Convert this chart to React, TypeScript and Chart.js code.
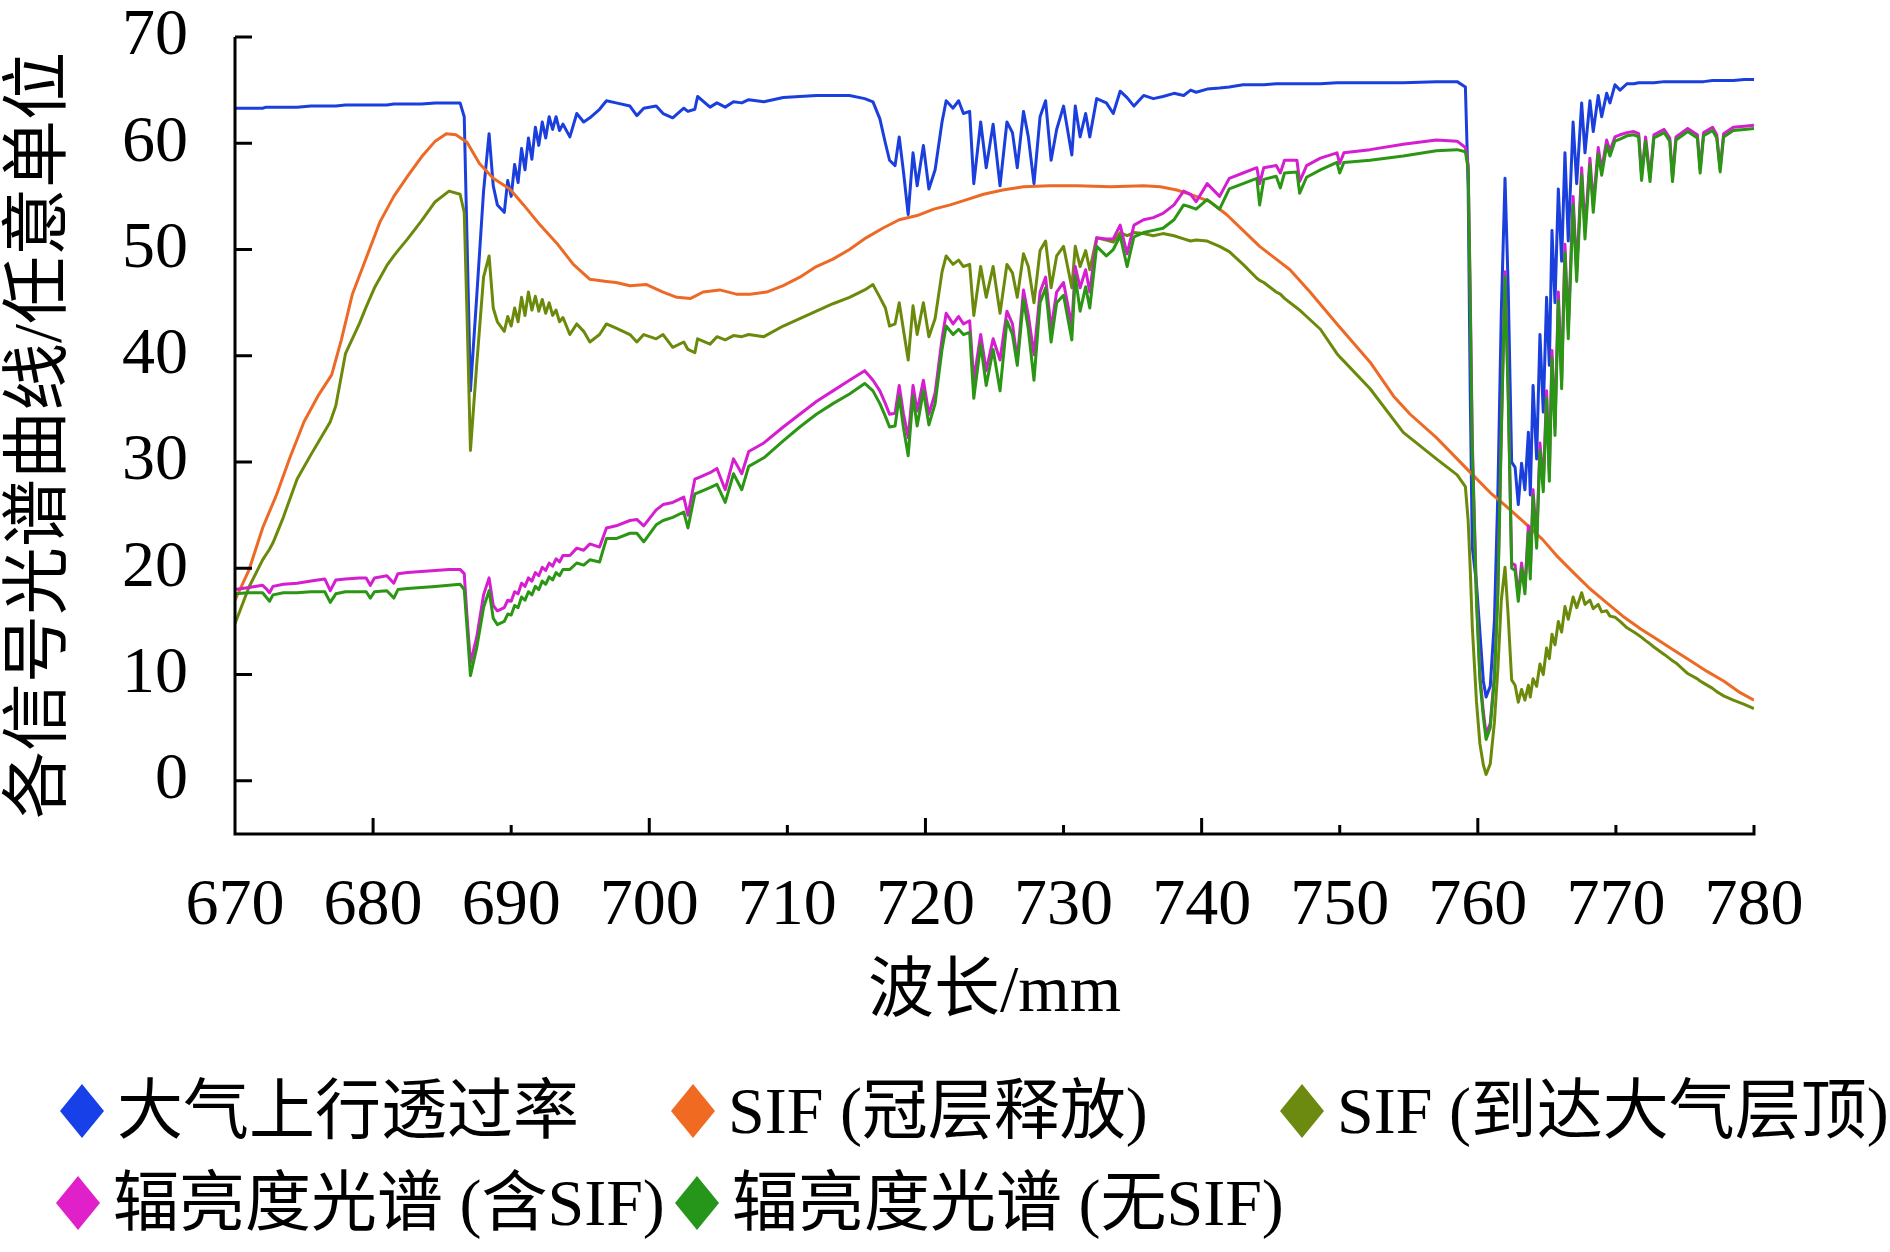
import React, { useEffect, useRef } from 'react';
import { Chart, registerables } from 'chart.js';

Chart.register(...registerables);

// shared wavelength grid (nm) for the four spectra with absorption structure
const wavelengths = [
  670, 671, 672, 672.25, 672.5, 672.75, 673.5, 674.5, 675.5, 676.5, 676.9, 677.3, 678, 679, 679.5, 679.8, 680.1, 681, 681.5, 681.8, 682.5, 683.5, 684.5, 685.5, 686.3,
  686.6, 686.8, 687.05, 687.5, 688, 688.4, 688.7, 689, 689.5,
  689.75, 690, 690.25, 690.5, 690.75, 691, 691.25, 691.5, 691.75, 692, 692.25, 692.5, 692.75, 693, 693.25, 693.5, 693.75,
  694.25, 694.75, 695.25, 695.7, 696.4, 696.9, 697.6, 698.6, 699.1, 699.6, 700.5, 701, 701.7, 702.5, 702.8, 703.3, 703.5, 704.4, 704.9, 705.5, 706.1, 706.7, 707.2, 708.3, 709.7, 710.9, 712.1, 713.3, 714.5, 715.6, 716.2,
  716.7, 717.1, 717.4, 717.8, 718.1, 718.4, 718.75, 719.1, 719.4, 719.85, 720.25, 720.7, 721.2, 721.5, 722, 722.4, 722.75, 723.2, 723.5, 724, 724.4, 724.9, 725.4, 725.9, 726.3, 726.65, 727.1, 727.45, 727.86, 728.3, 728.7, 729.1, 729.5, 730, 730.6, 730.85, 731.2, 731.6, 731.9, 732.4, 733.1, 733.6, 734.1, 734.6, 735.1, 735.8, 736.5,
  737.2, 738, 738.7, 739.2, 739.6, 740.4, 741.3, 742, 743, 744, 744.2, 744.5, 745.4, 745.7, 746, 746.9, 747.1, 747.6, 748.6, 749.8, 750, 750.3, 752.2, 754.6, 757, 758.5, 759.1,
  759.3, 759.45, 759.6, 759.9, 760.15, 760.4, 760.6, 760.9, 761.2, 761.45, 761.7, 761.97, 762.2, 762.45, 762.7, 762.93,
  763.17, 763.41, 763.66, 763.8, 764, 764.26, 764.5, 764.74, 764.98, 765.18, 765.37, 765.59, 765.83, 766.07, 766.31, 766.55, 766.9, 767.16, 767.52, 767.76, 768.12, 768.36, 768.72, 768.97, 769.33, 769.57, 769.93,
  770.3, 770.8, 771.3, 771.65, 771.86, 772.15, 772.47, 772.75, 773.5, 773.9, 774.1, 774.35, 775.2, 775.9, 776.1, 776.35, 777, 777.3, 777.55, 777.8, 778.5, 779.3, 780,
];

// 大气上行透过率
const transmittance = [
  63.3, 63.3, 63.3, 63.4, 63.4, 63.4, 63.4, 63.4, 63.5, 63.5, 63.5, 63.5, 63.6, 63.6, 63.6, 63.6, 63.6, 63.6, 63.7, 63.7, 63.7, 63.7, 63.8, 63.8, 63.8,
  62.5, 51.0, 36.7, 45.5, 55.5, 60.9, 56.0, 54.2, 53.5,
  56.5, 55.0, 58.0, 56.3, 59.5, 57.5, 60.5, 58.5, 61.5, 59.8, 62.0, 60.5, 62.5, 61.3, 62.5, 61.2, 61.8,
  60.6, 62.8, 62.0, 62.4, 63.2, 64.0, 63.8, 63.5, 62.6, 63.3, 63.5, 62.8, 62.4, 63.3, 63.0, 63.2, 64.4, 63.4, 63.8, 63.4, 63.9, 63.8, 64.1, 63.9, 64.3, 64.4, 64.5, 64.5, 64.5, 64.2, 63.9,
  62.3, 60.0, 58.4, 57.9, 60.6, 57.4, 53.3, 59.1, 56.0, 59.8, 55.7, 57.5, 62.0, 64.0, 63.3, 64.0, 62.8, 63.0, 56.2, 62.0, 57.7, 61.8, 56.0, 62.0, 61.0, 57.7, 63.0, 60.6, 56.2, 62.5, 64.0, 58.4, 61.3, 63.5, 58.9, 63.5, 60.6, 62.8, 60.6, 64.2, 63.8, 62.8, 64.9, 64.3, 63.5, 64.5, 64.2,
  64.4, 64.7, 64.5, 65.0, 64.8, 65.1, 65.2, 65.3, 65.5, 65.5, 65.5, 65.5, 65.6, 65.6, 65.6, 65.6, 65.6, 65.6, 65.6, 65.7, 65.7, 65.7, 65.7, 65.7, 65.8, 65.8, 65.3,
  56.0, 36.7, 22.0, 18.6, 14.0, 9.4, 7.9, 8.9, 15.0, 27.0, 44.0, 56.7, 46.4, 30.0, 29.5, 26.0,
  29.9, 27.4, 32.8, 26.9, 37.2, 30.3, 42.0, 34.7, 45.5, 39.1, 51.8, 45.0, 55.7, 48.9, 59.1, 50.8, 62.0, 56.2, 63.8, 59.1, 64.0, 61.1, 64.5, 62.5, 64.7, 63.8, 65.5,
  65.0, 65.6, 65.6, 65.7, 65.7, 65.7, 65.7, 65.7, 65.8, 65.8, 65.8, 65.8, 65.8, 65.8, 65.8, 65.8, 65.9, 65.9, 65.9, 65.9, 65.9, 66.0, 66.0,
];

// SIF (到达大气层顶)
const sifToa = [
  14.8, 18.2, 20.8, 21.3, 21.8, 22.4, 24.8, 28.4, 30.7, 32.9, 33.8, 35.3, 40.2, 43.0, 44.6, 45.5, 46.4, 48.5, 49.4, 49.9, 51.0, 52.7, 54.5, 55.5, 55.2,
  53.5, 44.0, 31.1, 39.1, 47.4, 49.4, 44.5, 43.2, 42.3,
  43.7, 42.8, 44.5, 43.2, 45.5, 43.8, 46.0, 44.3, 45.6, 44.2, 45.3, 44.0, 45.0, 43.8, 44.3, 43.2, 43.6,
  42.0, 43.0, 42.3, 41.3, 42.0, 43.0, 42.6, 42.0, 41.3, 42.0, 41.6, 42.0, 40.8, 41.3, 40.6, 40.3, 41.6, 41.1, 41.8, 41.5, 41.9, 41.8, 42.0, 41.8, 42.8, 43.5, 44.2, 44.9, 45.5, 46.2, 46.7,
  45.5, 44.5, 42.8, 43.0, 45.0, 42.5, 39.6, 44.7, 42.0, 45.0, 41.8, 43.5, 47.9, 49.4, 48.6, 49.0, 48.4, 48.6, 43.8, 48.4, 45.5, 48.4, 44.0, 48.6, 47.8, 45.5, 49.6, 48.4, 45.0, 49.9, 50.8, 46.4, 49.4, 50.3, 46.4, 50.3, 48.4, 49.9, 48.1, 51.1, 50.9, 50.7, 51.6, 51.3, 51.6, 51.5, 51.3,
  51.5, 51.3, 51.0, 50.8, 50.9, 50.8, 50.3, 49.8, 48.6, 47.3, 47.1, 46.9, 46.0, 45.8, 45.4, 44.5, 44.3, 43.7, 42.5, 40.2, 39.9, 39.5, 36.9, 32.8, 30.3, 28.8, 27.7,
  24.5, 20.0, 14.5, 7.5, 3.5, 1.5, 0.6, 1.6, 5.5, 10.5, 17.0, 20.1, 15.5, 9.5, 9.0, 7.4,
  8.6, 7.6, 9.0, 7.9, 9.6, 8.9, 11.0, 10.0, 12.5, 11.5, 13.8, 12.8, 15.0, 14.0, 16.4, 15.2, 17.3, 16.3, 17.7, 16.6, 17.0, 16.2, 16.6, 15.9, 16.0, 15.5, 15.4,
  15.0, 14.4, 14.0, 13.7, 13.5, 13.2, 12.9, 12.6, 11.9, 11.5, 11.3, 11.1, 10.1, 9.6, 9.4, 9.2, 8.7, 8.4, 8.2, 8.0, 7.6, 7.2, 6.8,
];

// 辐亮度光谱 (含SIF)
const radianceWithSif = [
  18.0, 18.2, 18.4, 18.1, 17.7, 18.3, 18.5, 18.6, 18.8, 19.0, 17.9, 18.9, 19.0, 19.1, 19.1, 18.4, 19.1, 19.3, 18.6, 19.5, 19.6, 19.7, 19.8, 19.9, 19.9,
  19.5, 15.5, 11.1, 13.5, 17.5, 19.1, 16.5, 16.0, 16.3,
  17.0, 16.9, 17.8, 17.6, 18.6, 18.3, 19.1, 18.8, 19.6, 19.3, 20.1, 19.8, 20.5, 20.2, 20.9, 20.6, 21.2,
  21.2, 21.9, 21.7, 22.3, 22.0, 23.8, 24.0, 24.5, 24.6, 24.0, 25.5, 26.0, 26.2, 26.7, 25.0, 28.4, 28.5, 29.0, 29.4, 27.4, 30.3, 28.9, 31.0, 31.8, 33.3, 34.5, 35.7, 36.7, 37.7, 38.6, 37.7,
  36.7, 35.5, 34.5, 34.6, 37.2, 34.6, 32.3, 37.2, 34.8, 37.7, 34.5, 36.5, 41.6, 44.0, 43.0, 43.7, 43.0, 43.3, 37.7, 42.0, 38.6, 41.6, 39.6, 44.2, 43.0, 39.6, 46.2, 43.8, 40.1, 46.0, 47.4, 42.5, 46.0, 46.9, 42.8, 48.4, 46.4, 48.1, 46.0, 51.1, 51.0, 51.0, 52.3, 49.6, 52.3, 52.8, 53.0,
  53.4, 54.2, 55.5, 55.2, 54.5, 56.2, 55.0, 56.7, 57.2, 57.7, 56.2, 57.7, 57.9, 57.2, 58.4, 58.4, 56.4, 57.9, 58.6, 59.1, 58.1, 59.1, 59.4, 59.9, 60.3, 60.2, 59.6,
  58.0, 46.0, 32.0, 17.5, 10.0, 6.5, 4.4, 5.4, 10.0, 18.0, 33.0, 47.9, 36.7, 20.5, 20.3, 17.4,
  20.5, 18.1, 24.0, 19.6, 27.4, 22.5, 31.8, 27.9, 36.7, 28.9, 40.5, 33.3, 46.0, 37.7, 50.5, 42.5, 55.0, 47.9, 57.7, 51.8, 58.6, 54.2, 59.6, 57.5, 60.3, 59.3, 60.6,
  60.8, 61.0, 61.1, 60.9, 57.0, 60.6, 56.8, 60.8, 61.3, 60.5, 56.8, 60.6, 61.4, 60.8, 57.6, 61.0, 61.5, 60.8, 57.6, 60.9, 61.5, 61.6, 61.7,
];

// 辐亮度光谱 (无SIF)
const radianceNoSif = [
  17.6, 17.7, 17.7, 17.3, 16.9, 17.5, 17.7, 17.7, 17.8, 17.8, 16.8, 17.6, 17.8, 17.8, 17.8, 17.2, 17.8, 17.9, 17.2, 18.0, 18.1, 18.2, 18.3, 18.4, 18.5,
  18.0, 14.5, 9.9, 12.5, 16.3, 17.9, 15.3, 14.7, 15.0,
  15.7, 15.6, 16.5, 16.3, 17.3, 17.0, 17.8, 17.5, 18.3, 18.0, 18.8, 18.5, 19.2, 18.9, 19.6, 19.3, 19.9,
  19.9, 20.5, 20.3, 20.8, 20.6, 22.8, 22.8, 23.3, 23.3, 22.5, 24.1, 24.5, 24.8, 25.3, 23.8, 27.0, 27.1, 27.6, 27.9, 26.2, 28.9, 27.4, 29.6, 30.4, 32.0, 33.3, 34.5, 35.5, 36.4, 37.4, 36.7,
  35.5, 34.3, 33.3, 33.4, 36.2, 33.3, 30.6, 36.2, 33.4, 36.7, 33.5, 35.5, 40.6, 42.8, 42.0, 42.5, 42.0, 42.2, 36.0, 41.1, 37.2, 40.6, 36.7, 43.3, 42.0, 39.1, 45.3, 42.5, 37.7, 45.0, 46.4, 41.3, 45.0, 45.7, 41.5, 47.5, 44.2, 46.5, 44.5, 50.3, 49.4, 50.0, 51.3, 48.4, 51.2, 51.6, 51.8,
  52.0, 52.8, 54.2, 54.0, 53.8, 54.7, 53.8, 55.7, 56.2, 56.7, 54.2, 56.6, 56.9, 55.8, 57.2, 57.3, 55.3, 56.8, 57.5, 58.2, 57.2, 58.2, 58.4, 58.8, 59.3, 59.4, 59.2,
  57.6, 45.0, 31.0, 17.0, 9.5, 6.0, 3.9, 5.0, 9.5, 17.5, 32.5, 47.4, 36.2, 20.0, 19.8, 16.9,
  20.0, 17.6, 23.4, 19.0, 26.8, 21.9, 31.1, 27.2, 36.0, 28.2, 39.8, 32.5, 45.2, 36.9, 49.7, 41.6, 54.2, 47.0, 57.0, 51.0, 58.0, 53.5, 59.0, 57.0, 59.8, 58.8, 60.2,
  60.4, 60.7, 60.8, 60.6, 56.5, 60.2, 56.4, 60.5, 61.0, 60.2, 56.4, 60.3, 61.1, 60.5, 57.2, 60.7, 61.2, 60.5, 57.3, 60.6, 61.2, 61.3, 61.4,
];

// SIF (冠层释放) is smooth, so it has its own coarser grid
const canopyWavelengths = [
  670, 671, 672, 673, 674, 675, 676, 677, 677.7, 678.5, 679.5, 680.5, 681.5, 682.5, 683.5, 684.5,
  685.3, 686, 686.8, 687.7, 688.7, 689.9, 690.9, 692.1, 693.3, 694.5, 695.7, 696.9, 697.6, 698.6, 699.8, 701,
  702, 703, 703.9, 705.1, 706.3, 707.3, 708.5, 709.7, 710.9, 712.1, 713.3, 714.5, 715.7, 716.9, 718.1, 719.4,
  720.6, 721.8, 723, 724.2, 725.6, 727.1, 729, 731, 733.4, 735.8, 737, 738.2, 739.4, 740.6, 741.8, 743,
  744.2, 745.4, 746.4, 747.85, 749.8, 752.2, 753.9, 755.1, 757, 759.4, 761, 762, 763.3, 764.7, 765.7, 767,
  768.1, 769.3, 770.5, 771.8, 773, 774.2, 775.4, 776.6, 777.8, 779, 780,
];
const sifCanopy = [
  17.0, 19.8, 23.8, 26.9, 30.5, 33.8, 36.2, 38.2, 41.5, 45.8, 49.2, 52.6, 55.0, 56.9, 58.7, 60.2,
  60.9, 60.8, 60.1, 58.1, 56.7, 55.7, 54.2, 52.3, 50.6, 48.6, 47.2, 47.0, 46.9, 46.6, 46.7, 46.0,
  45.5, 45.4, 46.0, 46.2, 45.8, 45.8, 46.0, 46.6, 47.4, 48.4, 49.1, 50.0, 51.1, 52.0, 52.8, 53.2,
  53.8, 54.2, 54.7, 55.2, 55.6, 55.9, 56.0, 56.0, 55.9, 56.0, 55.9, 55.6, 55.1, 54.5, 53.3, 51.8,
  50.3, 49.1, 48.1, 46.0, 43.0, 39.4, 36.2, 34.5, 32.3, 29.1, 27.0, 25.9, 24.4, 22.7, 21.2, 19.5,
  18.1, 16.8, 15.5, 14.3, 13.3, 12.3, 11.3, 10.3, 9.4, 8.3, 7.6,
];

const seriesNames = ['大气上行透过率', 'SIF (冠层释放)', 'SIF (到达大气层顶)', '辐亮度光谱 (含SIF)', '辐亮度光谱 (无SIF)'];
const seriesColors = ['#1a3fdc', '#ec6a26', '#6b8a0c', '#d41ecf', '#2a9614'];
const legendColors = ['#1740e8', '#f06a22', '#6c8a10', '#e020c8', '#26961a'];

const yTickValues = [0, 10, 20, 30, 40, 50, 60, 70];

const X_MIN = 670;
const X_MAX = 780;
const Y_MIN = -5;
const Y_MAX = 70;

const SERIF = "'Liberation Serif', 'Times New Roman', 'Noto Sans CJK SC', serif";

// legend placement: [left of diamond, vertical centre]
const legendSpots: [number, number][] = [
  [60, 1111], [671, 1111], [1280, 1111],
  [56, 1203], [675, 1203],
];

const pairs = (xs: number[], ys: number[]) => xs.map((x, i) => ({ x, y: ys[i] }));

// ticks point into the plot; every other x tick is longer
const inwardAxes = {
  id: 'inwardAxes',
  afterDraw(chart: any) {
    const { ctx, chartArea: a, scales } = chart;
    const xs = scales.x;
    const ys = scales.y;
    ctx.save();
    ctx.strokeStyle = '#000';
    ctx.lineWidth = 3;
    ctx.beginPath();
    ctx.moveTo(a.left, a.top);
    ctx.lineTo(a.left, a.bottom);
    ctx.moveTo(a.left - 1.5, a.bottom);
    ctx.lineTo(a.right + 1.5, a.bottom);
    for (const t of ys.ticks) {
      const py = ys.getPixelForValue(t.value);
      ctx.moveTo(a.left, py);
      ctx.lineTo(a.left + 17, py);
    }
    for (const t of xs.ticks) {
      if (t.value === X_MIN) continue;
      const px = xs.getPixelForValue(t.value);
      const len = t.value % 20 === 0 && t.value !== X_MAX ? 16 : 9;
      ctx.moveTo(px, a.bottom);
      ctx.lineTo(px, a.bottom - len);
    }
    ctx.stroke();
    ctx.restore();
  },
};

export default function App() {
  const canvasRef = useRef<HTMLCanvasElement>(null);

  useEffect(() => {
    const canvas = canvasRef.current;
    if (!canvas) return;

    const valueSets = [transmittance, sifCanopy, sifToa, radianceWithSif, radianceNoSif];
    const drawOrder = [5, 4, 3, 2, 1];

    const chart = new Chart(canvas, {
      type: 'line',
      data: {
        datasets: valueSets.map((vals, i) => ({
          label: seriesNames[i],
          data: pairs(i === 1 ? canopyWavelengths : wavelengths, vals),
          borderColor: seriesColors[i],
          backgroundColor: seriesColors[i],
          borderWidth: 3,
          borderJoinStyle: 'round' as const,
          pointRadius: 0,
          tension: 0,
          fill: false,
          order: drawOrder[i],
        })),
      },
      options: {
        animation: false,
        responsive: false,
        layout: { padding: { top: 37, right: 136, left: 0, bottom: 0 } },
        plugins: {
          legend: { display: false },
          tooltip: { enabled: false },
        },
        scales: {
          x: {
            type: 'linear',
            min: X_MIN,
            max: X_MAX,
            grid: { display: false, drawTicks: false },
            border: { display: false },
            ticks: {
              stepSize: 10,
              padding: 40,
              color: '#000',
              maxRotation: 0,
              autoSkip: false,
              font: { family: SERIF, size: 66, lineHeight: 1 },
            },
            title: {
              display: true,
              text: '波长/mm',
              color: '#000',
              font: { family: SERIF, size: 66, lineHeight: 1 },
              padding: { top: 0, bottom: 23 },
            },
            afterFit: (s: any) => {
              s.height = 216;
              s.paddingLeft = 0;
              s.paddingRight = 0;
            },
          },
          y: {
            type: 'linear',
            min: Y_MIN,
            max: Y_MAX,
            grid: { display: false, drawTicks: false },
            border: { display: false },
            ticks: {
              padding: 47,
              color: '#000',
              autoSkip: false,
              font: { family: SERIF, size: 66, lineHeight: 1 },
            },
            afterBuildTicks: (s: any) => { s.ticks = yTickValues.map(v => ({ value: v })); },
            title: {
              display: true,
              text: '各信号光谱曲线/任意单位',
              color: '#000',
              font: { family: SERIF, size: 68, lineHeight: 1 },
              padding: { top: 8, bottom: 0 },
            },
            afterFit: (s: any) => {
              s.width = 235;
              s.paddingTop = 0;
              s.paddingBottom = 0;
            },
          },
        },
      },
      plugins: [inwardAxes],
    });

    return () => chart.destroy();
  }, []);

  return (
    <div style={{ position: 'absolute', left: 0, top: 0, width: 1890, height: 1252, background: '#fff', overflow: 'hidden' }}>
      <canvas ref={canvasRef} width={1890} height={1050} style={{ position: 'absolute', left: 0, top: 0, width: 1890, height: 1050 }} />
      {seriesNames.map((name, i) => (
        <div
          key={name}
          style={{
            position: 'absolute',
            left: legendSpots[i][0],
            top: legendSpots[i][1] - 35,
            height: 70,
            display: 'flex',
            alignItems: 'center',
            whiteSpace: 'nowrap',
          }}
        >
          <div
            style={{
              width: 44,
              height: 54,
              background: legendColors[i],
              clipPath: 'polygon(50% 0, 100% 50%, 50% 100%, 0 50%)',
            }}
          />
          <span style={{ marginLeft: 13, fontFamily: SERIF, fontSize: 66, lineHeight: '70px', color: '#000' }}>{name}</span>
        </div>
      ))}
    </div>
  );
}
